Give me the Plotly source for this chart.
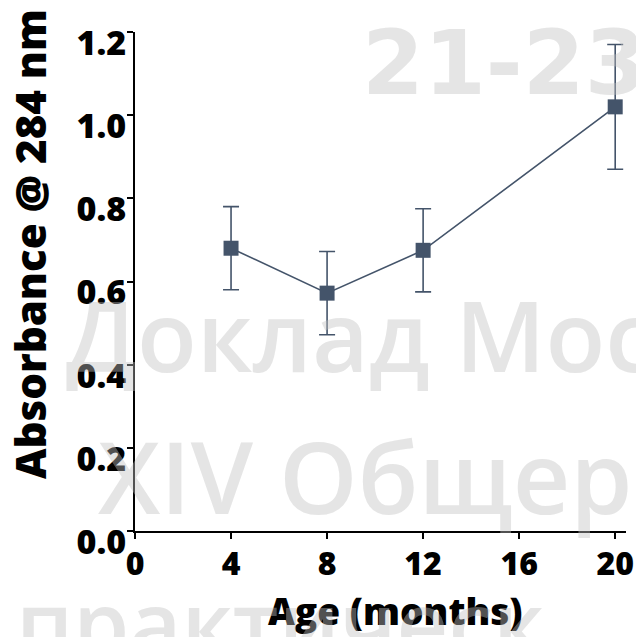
import plotly.graph_objects as go

# Mean absorbance at 284 nm by age, with symmetric error
age_months = [4, 8, 12, 20]
absorbance = [0.68, 0.572, 0.675, 1.02]
absorbance_err = [0.10, 0.10, 0.10, 0.15]

x_ticks = [0, 4, 8, 12, 16, 20]
y_ticks = [0.0, 0.2, 0.4, 0.6, 0.8, 1.0, 1.2]
y_tick_labels = ["0.0", "0.2", "0.4", "0.6", "0.8", "1.0", "1.2"]

x_title = "Age (months)"
y_title = "Absorbance @ 284 nm"

# Faint overlay lines of text
overlay_lines = ["21-23", "Доклад Мос", "XIV Общерос", "практическ"]

W, H = 636, 637
ML, MR, MT, MB = 135, 10, 32, 106
PW, PH = W - ML - MR, H - MT - MB

SERIES = "#44546a"
INK = "#000000"
FONT = "Open Sans"


def px(xp):
    return (xp - ML) / PW


def py(yp):
    return (H - MB - yp) / PH


fig = go.Figure()
fig.add_trace(go.Scatter(
    x=age_months,
    y=absorbance,
    mode="lines+markers",
    line=dict(color=SERIES, width=1.6),
    marker=dict(symbol="square", size=15, color=SERIES),
    error_y=dict(type="data", array=absorbance_err, symmetric=True,
                 color=SERIES, thickness=1.6, width=8),
    showlegend=False,
    cliponaxis=False,
))

annotations = [
    dict(text=x_title, x=px(395), y=py(610), xref="paper", yref="paper",
         xanchor="center", yanchor="middle", showarrow=False,
         font=dict(family=FONT, size=37, color=INK, weight=800)),
    dict(text=y_title, x=px(29), y=py(244), xref="paper", yref="paper",
         xanchor="center", yanchor="middle", showarrow=False, textangle=-90,
         font=dict(family=FONT, size=42, color=INK, weight=800)),
]

overlay_color = "rgba(193,193,193,0.42)"
overlay_specs = [
    (overlay_lines[0], 360, 63, 89, "DejaVu Sans", 700),
    (overlay_lines[1], 64, 334, 98, "Open Sans", 600),
    (overlay_lines[2], 96, 475, 100, "Open Sans", 600),
    (overlay_lines[3], 14, 622, 90, "Open Sans", 600),
]
for text, xl, yc, size, fam, weight in overlay_specs:
    annotations.append(dict(
        text=text, x=px(xl), y=py(yc), xref="paper", yref="paper",
        xanchor="left", yanchor="middle", showarrow=False,
        font=dict(family=fam, size=size, color=overlay_color, weight=weight),
    ))

fig.update_layout(
    width=W, height=H,
    margin=dict(l=ML, r=MR, t=MT, b=MB, pad=0, autoexpand=False),
    paper_bgcolor="white", plot_bgcolor="white",
    annotations=annotations,
    xaxis=dict(
        range=[0, 20.45], tickmode="array", tickvals=x_ticks,
        ticks="outside", ticklen=6, tickwidth=2, tickcolor=INK,
        showline=True, linecolor=INK, linewidth=2,
        showgrid=False, zeroline=False, automargin=False,
        tickfont=dict(family=FONT, size=32, color=INK, weight=800),
        ticklabelstandoff=-2, ticklabeloverflow="allow",
    ),
    yaxis=dict(
        range=[0, 1.2], tickmode="array", tickvals=y_ticks, ticktext=y_tick_labels,
        ticks="outside", ticklen=6, tickwidth=2, tickcolor=INK,
        showline=True, linecolor=INK, linewidth=2,
        showgrid=False, zeroline=False, automargin=False,
        tickfont=dict(family=FONT, size=34, color=INK, weight=800),
        ticklabelshift=11, ticklabelstandoff=-6, ticklabeloverflow="allow",
    ),
)

fig.write_html("out.html", config={"displayModeBar": False})
